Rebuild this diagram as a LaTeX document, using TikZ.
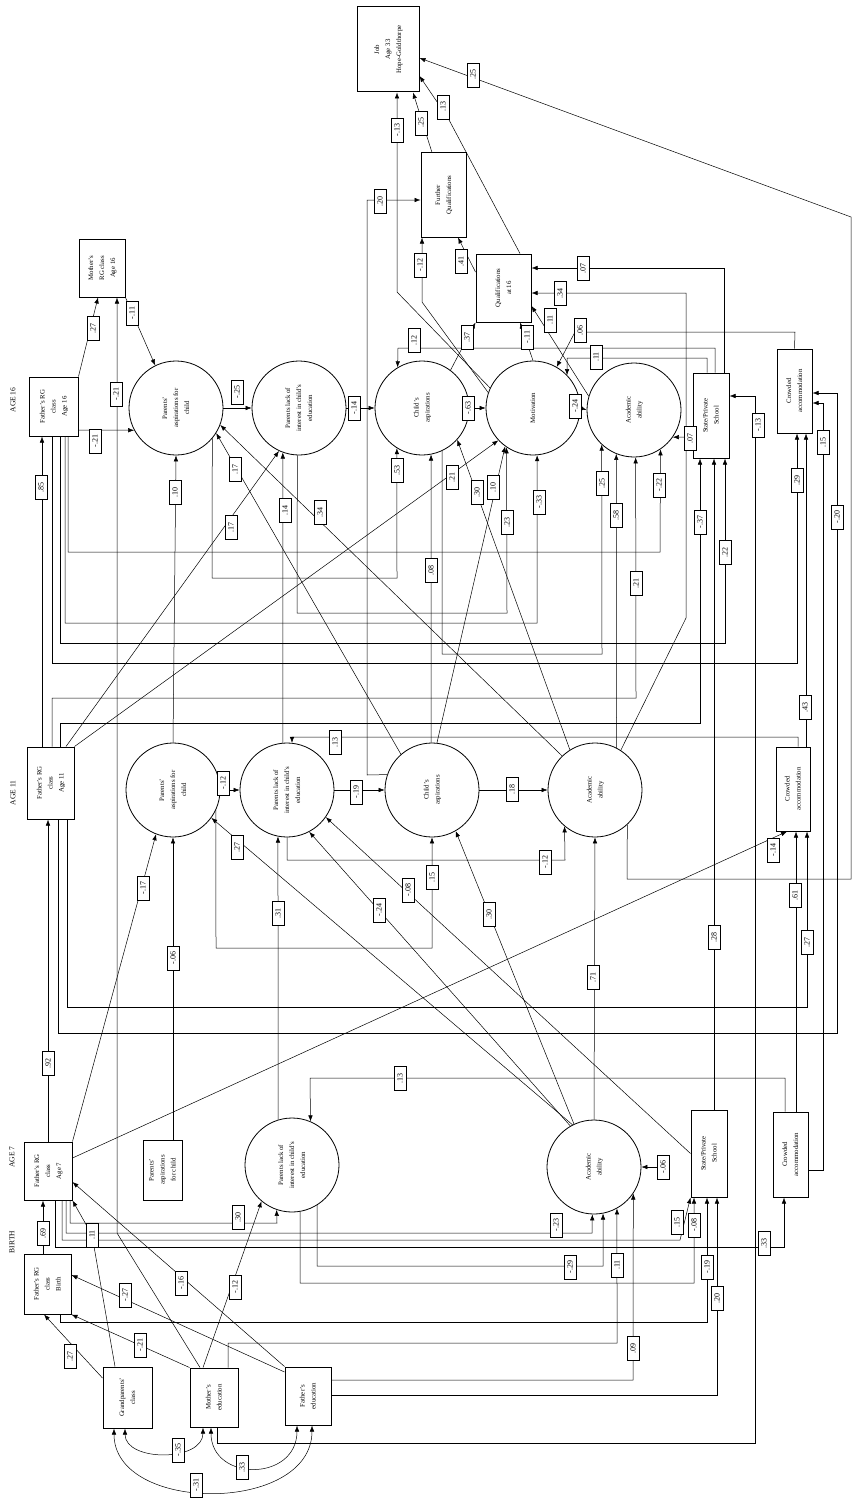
\documentclass[tikz,border=0pt]{standalone}
\usepackage{fontspec}
\setmainfont{Liberation Serif}
\usetikzlibrary{arrows.meta}
\newcommand\myNF{\fontsize{6.8}{11}\selectfont}
\newcommand\myLF{\fontsize{8}{9}\selectfont}
\newcommand\myTF{\fontsize{7.5}{8}\selectfont}
\newcommand\rtext[1]{\rotatebox{90}{\begin{tabular}{@{}c@{}}#1\end{tabular}}}
\begin{document}
\begin{tikzpicture}[x=1pt,y=-1pt,
 box/.style={draw, line width=1pt, inner sep=0pt, font=\myNF},
 circ/.style={circle, draw, line width=0.8pt, minimum size=94pt, inner sep=0pt, font=\myNF},
 lab/.style={draw, fill=white, rotate=90, inner sep=0.5pt, minimum width=24pt, minimum height=12pt, font=\myLF, line width=0.45pt},
 arr/.style={-{Latex[length=6pt,width=4.5pt]}, line width=0.5pt},
 darr/.style={{Latex[length=6pt,width=4.5pt]}-{Latex[length=6pt,width=4.5pt]}, line width=0.5pt},
 ttl/.style={rotate=90, font=\myTF, inner sep=0pt}]
\fill[white] (0,0) rectangle (854,1498);
\useasboundingbox (0,0) rectangle (854,1498);

% titles
\node[ttl] (tb) at (12,1242) {BIRTH};
\node[ttl] (t7) at (12,1157) {AGE 7};
\node[ttl] (t11) at (13,793) {AGE 11};
\node[ttl] (t16) at (13,400) {AGE 16};

% boxes
\node[box, minimum width=47pt, minimum height=60pt] (fb) at (47.5,1284) {\rtext{Father's RG\\class\\Birth}};
\node[box, minimum width=48pt, minimum height=58pt] (f7) at (48,1171) {\rtext{Father's RG\\class\\Age 7}};
\node[box, minimum width=47pt, minimum height=72pt] (f11) at (50.5,783) {\rtext{Father's RG\\class\\Age 11}};
\node[box, minimum width=49pt, minimum height=59pt] (f16) at (53.5,406.5) {\rtext{Father's RG\\class\\Age 16}};
\node[box, minimum width=46pt, minimum height=58pt] (m16) at (102,268) {\rtext{Mother's\\RG class\\Age 16}};
\node[box, minimum width=62pt, minimum height=85pt] (job) at (388,49.5) {\rtext{Job\\Age 33\\Hope-Goldthorpe}};
\node[box, minimum width=45pt, minimum height=84pt] (fq) at (443.5,195) {\rtext{Further\\Qualifications}};
\node[box, minimum width=55pt, minimum height=68pt] (q16) at (503.5,288) {\rtext{Qualifications\\at 16}};
\node[box, minimum width=36pt, minimum height=85pt] (s16) at (711,415.5) {\rtext{State/Private\\School}};
\node[box, minimum width=35pt, minimum height=84pt] (c16) at (794.5,391) {\rtext{Crowded\\accommodation}};
\node[box, minimum width=34pt, minimum height=84pt] (c11) at (793,789) {\rtext{Crowded\\accommodation}};
\node[box, minimum width=36pt, minimum height=87pt] (s7) at (709,1153.5) {\rtext{State/Private\\School}};
\node[box, minimum width=35pt, minimum height=85pt] (c7) at (790.5,1154.5) {\rtext{Crowded\\accommodation}};
\node[box, minimum width=39pt, minimum height=60pt] (pa7) at (162.5,1170) {\rtext{Parents'\\aspirations\\for child}};
\node[box, minimum width=49pt, minimum height=61pt] (gp) at (127.5,1397.5) {\rtext{Grandparents'\\class}};
\node[box, minimum width=48pt, minimum height=59pt] (me) at (214,1397.5) {\rtext{Mother's\\education}};
\node[box, minimum width=46pt, minimum height=58pt] (fe) at (308,1396) {\rtext{Father's\\education}};

% circles
\node[circ] (pa16) at (176,408) {\rtext{Parents'\\aspirations for\\child}};
\node[circ] (pl16) at (299,408) {\rtext{Parents lack of\\interest in child's\\education}};
\node[circ] (ca16) at (422,408) {\rtext{Child's\\aspirations}};
\node[circ] (mo16) at (533,408) {\rtext{Motivation}};
\node[circ] (ac16) at (634,410) {\rtext{Academic\\ability}};
\node[circ] (pa11) at (173,790) {\rtext{Parents'\\aspirations for\\child}};
\node[circ] (pl11) at (287,790) {\rtext{Parents lack of\\interest in child's\\education}};
\node[circ] (ca11) at (432,790) {\rtext{Child's\\aspirations}};
\node[circ] (ac11) at (595,790) {\rtext{Academic\\ability}};
\node[circ] (pl7) at (292,1165) {\rtext{Parents lack of\\interest in child's\\education}};
\node[circ] (ac7) at (594,1167) {\rtext{Academic\\ability}};

% ---- age 16 upper
\draw[arr] (f16.north east) -- (m16.south -| 98,0);
\draw[arr] (me.north -| 200,0) -- (117,1233) -- (m16.south -| 117,0);
\draw[arr] (m16.south east) -- (pa16.116);
\draw[arr] (f16.east |- 0,430) -- (pa16.208);
\draw[arr] (f11.north -| 42,0) -- (f16.south -| 42,0);
\draw[arr] (pa11.north) -- (pa16.south);
\draw[arr] (pa16.east) -- (pl16.west);
\draw[arr] (pl16.east) -- (ca16.west);
\draw[arr] (ca16.east) -- (mo16.west);
\draw[arr] (mo16.east) -- (ac16.west);
\draw[arr] (s16.west |- 0,437) -- (ac16.-35);
\draw[arr] (me.south -| 217,0) -- (217,1443) -- (755,1443) -- (755,396) -- (s16.east |- 0,396);
\draw[arr] (s16.north -| 715,0) -- (715,348) -- (398,348) -- (ca16.121);
\draw[arr] (s16.north -| 707,0) -- (707,358) -- (567,358) -- (mo16.44);
\draw[arr] (s16.north -| 724,0) -- (724,268) -- (q16.east |- 0,268);
\draw[arr] (ac11.57) -- (686,618) -- (686,293) -- (q16.east |- 0,293);
\draw[arr] (ac16.163) -- (q16.east |- 0,306);
\draw[arr] (mo16.north) -- (q16.south -| 520,0);
\draw[arr] (ca16.53) -- (q16.south west);
\draw[arr] (q16.west |- 0,272) -- (fq.south -| 458,0);
\draw[arr] (mo16.161) -- (422,302) -- (fq.south -| 422,0);
\draw[arr] (mo16.155) -- (397,292) -- (job.south -| 397,0);
\draw[arr] (fq.north -| 432,0) -- (job.south -| 413,0);
\draw[arr] (q16.north -| 520,0) -- (448,118) -- (job.east |- 0,76);
\draw[arr] (ac11.-47) -- (627,879) -- (851,879) -- (851,217) -- (job.east |- 0,58);
\draw[arr] (ca11.161) -- (367,775) -- (367,200) -- (fq.west |- 0,200);

% ---- age 16 lower
\draw[arr] (f16.south -| 68,0) -- (68,552) -- (660,552) -- (ac16.-56);
\draw[arr] (f16.south -| 65,0) -- (65,623) -- (537,623) -- (mo16.-85);
\draw[arr] (f16.south -| 60,0) -- (60,643) -- (725,643) -- (s16.south -| 725,0);
\draw[arr] (f16.south -| 52,0) -- (52,663) -- (797,663) -- (c16.south -| 797,0);
\draw[arr] (pa16.-40) -- (212,578) -- (397,578) -- (ca16.-122);
\draw[arr] (pl16.-92) -- (297,613) -- (507,613) -- (mo16.-124);
\draw[arr] (ca16.-65) -- (442,654) -- (602,654) -- (ac16.-133);
\draw[arr] (f11.north -| 52,0) -- (52,698) -- (636,698) -- (ac16.-88);
\draw[arr] (f11.north -| 60,0) -- (60,723) -- (700,723) -- (s16.south -| 700,0);
\draw[arr] (ac11.63) -- (ac16.-112);
\draw[arr] (ca11.91) -- (ca16.-79);
\draw[arr] (ac11.122) -- (ca16.-42);
\draw[arr] (ca11.84) -- (mo16.-126);
\draw[arr] (f11.north east) -- (mo16.-137);
\draw[arr] (f11.north -| 66,0) -- (pl16.-115);
\draw[arr] (pl11.95) -- (pl16.-110);
\draw[arr] (ca11.131) -- (pa16.-32);
\draw[arr] (ac11.134) -- (pa16.-21);
\draw[arr] (c16.north) -- (795,332) -- (575,332) -- (mo16.60);
\draw[arr] (c11.north -| 806,0) -- (c16.south -| 806,0);
\draw[arr] (f11.south -| 58,0) -- (58,1033) -- (837,1033) -- (837,393) -- (c16.east |- 0,393);
\draw[arr] (c7.east |- 0,1170) -- (823,1170) -- (823,403) -- (c16.east |- 0,403);

% ---- age 11
\draw[arr] (pa11.east) -- (pl11.west);
\draw[arr] (pl11.east) -- (ca11.west);
\draw[arr] (ca11.east) -- (ac11.west);
\draw[arr] (f7.north east) -- (pa11.-111);
\draw[arr] (pa7.north -| 173,0) -- (pa11.south);
\draw[arr] (ac7.117) -- (pa11.-36);
\draw[arr] (pl7.107) -- (pl11.-101);
\draw[arr] (pa11.-25) -- (216,948) -- (432,948) -- (ca11.south);
\draw[arr] (pl11.south) -- (287,860) -- (565,860) -- (ac11.-130);
\draw[arr] (ac7.120) -- (pl11.-62);
\draw[arr] (s7.west) -- (pl11.-35);
\draw[arr] (ac7.115) -- (ca11.-60);
\draw[arr] (ac7.north) -- (ac11.south);
\draw[arr] (c11.north -| 798,0) -- (798,737) -- (292,737) -- (pl11.84);
\draw[arr] (f7.east |- 0,1158) -- (c11.south -| 787,0);
\draw[arr] (c7.north -| 796,0) -- (c11.south -| 796,0);
\draw[arr] (f11.south -| 67,0) -- (67,1007) -- (807,1007) -- (c11.south -| 807,0);
\draw[arr] (s7.north -| 714,0) -- (s16.south -| 714,0);
\draw[arr] (f7.north -| 48,0) -- (f11.south -| 48,0);
\draw[arr] (fb.north -| 43,0) -- (f7.south -| 43,0);

% ---- age 7
\draw[arr] (f7.south -| 70,0) -- (70,1223) -- (277,1223) -- (pl7.-109);
\draw[arr] (f7.south -| 66,0) -- (66,1233) -- (592,1233) -- (ac7.-92);
\draw[arr] (f7.south -| 62,0) -- (62,1240) -- (680,1240) -- (s7.south west);
\draw[arr] (f7.south -| 55,0) -- (55,1247) -- (784,1247) -- (c7.south -| 784,0);
\draw[arr] (pl7.-58) -- (317,1266) -- (603,1266) -- (ac7.-79);
\draw[arr] (pl7.-80) -- (300,1283) -- (694,1283) -- (s7.south -| 694,0);
\draw[arr] (fb.south -| 60,0) -- (60,1322) -- (707,1322) -- (s7.south -| 707,0);
\draw[arr] (fe.east |- 0,1395) -- (717,1395) -- (s7.south -| 717,0);
\draw[arr] (me.north -| 228,0) -- (228,1343) -- (617,1343) -- (ac7.-61);
\draw[arr] (fe.east |- 0,1380) -- (633,1380) -- (ac7.-34);
\draw[arr] (c7.north -| 785,0) -- (785,1078) -- (310,1078) -- (pl7.67);
\draw[arr] (me.north -| 203,0) -- (pl7.-130);
\draw[arr] (me.north west) -- (fb.south east);
\draw[arr] (gp.west |- 0,1378) -- (fb.south -| 44,0);
\draw[arr] (gp.north -| 115,0) -- (92,1235) -- (f7.south east);
\draw[arr] (fe.west |- 0,1372) -- (fb.east |- 0,1275);
\draw[arr] (fe.north west) -- (f7.east |- 0,1182);
\draw[darr] (gp.south -| 125,0) .. controls (125,1462) and (203,1462) .. (me.south -| 203,0);
\draw[darr] (me.south -| 211,0) .. controls (211,1482) and (297,1482) .. (fe.south -| 297,0);
\draw[darr] (gp.south -| 114,0) .. controls (114,1514) and (312,1514) .. (fe.south -| 312,0);

% ---- labels
\node[lab] (l1) at (93,328) {.27};
\node[lab] (l2) at (116,394) {-.21};
\node[lab] (l3) at (132,313) {-.11};
\node[lab] (l4) at (95,441) {-.21};
\node[lab] (l5) at (41,487) {.85};
\node[lab] (l6) at (175,492) {.10};
\node[lab] (l7) at (237,392) {-.25};
\node[lab] (l8) at (354,408) {-.14};
\node[lab] (l9) at (468,408) {-.63};
\node[lab] (l10) at (575,406) {-.24};
\node[lab] (l11) at (690,438) {.07};
\node[lab] (l12) at (758,425) {-.13};
\node[lab] (l13) at (414,340) {.12};
\node[lab] (l14) at (596,357) {.11};
\node[lab] (l15) at (583,268) {.07};
\node[lab] (l16) at (560,293) {.34};
\node[lab] (l17) at (550,320) {.11};
\node[lab] (l18) at (527,337) {-.11};
\node[lab] (l19) at (467,337) {.37};
\node[lab] (l20) at (461,261) {.41};
\node[lab] (l21) at (420,265) {-.12};
\node[lab] (l22) at (397,130) {-.13};
\node[lab] (l23) at (421,123) {.25};
\node[lab] (l24) at (443,107) {.13};
\node[lab] (l25) at (473,75) {.25};
\node[lab] (l26) at (380,201) {.20};
\node[lab] (l27) at (659,485) {-.22};
\node[lab] (l31) at (539,502) {-.33};
\node[lab] (l33) at (452,477) {.21};
\node[lab] (l34) at (493,487) {.10};
\node[lab] (l36) at (580,330) {.06};
\node[lab] (l37) at (397,470) {.53};
\node[lab] (l38) at (431,570) {.08};
\node[lab] (l39) at (477,492) {.30};
\node[lab] (l40) at (285,510) {.14};
\node[lab] (l41) at (231,527) {.17};
\node[lab] (l42) at (235,469) {.17};
\node[lab] (l43) at (320,512) {.34};
\node[lab] (l44) at (223,783) {-.12};
\node[lab] (l45) at (356,792) {-.19};
\node[lab] (l46) at (512,789) {.18};
\node[lab] (l47) at (143,888) {-.17};
\node[lab] (l48) at (173,958) {-.06};
\node[lab] (l49) at (237,847) {.27};
\node[lab] (l50) at (278,913) {.31};
\node[lab] (l51) at (432,877) {.15};
\node[lab] (l52) at (545,862) {-.12};
\node[lab] (l53) at (379,910) {-.24};
\node[lab] (l54) at (408,890) {-.08};
\node[lab] (l55) at (489,914) {.30};
\node[lab] (l56) at (593,977) {.71};
\node[lab] (l57) at (335,742) {.13};
\node[lab] (l58) at (805,707) {.43};
\node[lab] (l59) at (773,850) {-.14};
\node[lab] (l60) at (795,895) {.61};
\node[lab] (l61) at (807,942) {.27};
\node[lab] (l62) at (837,517) {-.20};
\node[lab] (l63) at (823,442) {.15};
\node[lab] (l64) at (797,480) {.29};
\node[lab] (l65) at (725,552) {.22};
\node[lab] (l67) at (636,583) {.21};
\node[lab] (l68) at (700,522) {-.37};
\node[lab] (l69) at (616,515) {.58};
\node[lab] (l70) at (602,483) {.25};
\node[lab] (l71) at (507,522) {.23};
\node[lab] (l72) at (714,937) {.28};
\node[lab] (l73) at (48,1063) {.92};
\node[lab] (l74) at (43,1233) {.69};
\node[lab] (l75) at (238,1217) {.30};
\node[lab] (l76) at (556,1225) {-.23};
\node[lab] (l77) at (677,1222) {.15};
\node[lab] (l78) at (764,1243) {.33};
\node[lab] (l79) at (570,1267) {-.29};
\node[lab] (l80) at (694,1225) {-.08};
\node[lab] (l81) at (707,1267) {-.19};
\node[lab] (l82) at (717,1298) {.20};
\node[lab] (l83) at (617,1265) {.11};
\node[lab] (l84) at (633,1348) {.09};
\node[lab] (l85) at (663,1167) {-.06};
\node[lab] (l86) at (400,1078) {.13};
\node[lab] (l87) at (235,1287) {-.12};
\node[lab] (l88) at (140,1345) {-.21};
\node[lab] (l89) at (70,1356) {.27};
\node[lab] (l90) at (92,1235) {.11};
\node[lab] (l91) at (125,1295) {-.27};
\node[lab] (l92) at (181,1283) {-.16};
\node[lab] (l95) at (178,1450) {-.35};
\node[lab] (l96) at (242,1467) {.33};
\node[lab] (l97) at (196,1485) {-.31};
\draw[arr] (l85) -- (ac7);
\end{tikzpicture}
\end{document}
